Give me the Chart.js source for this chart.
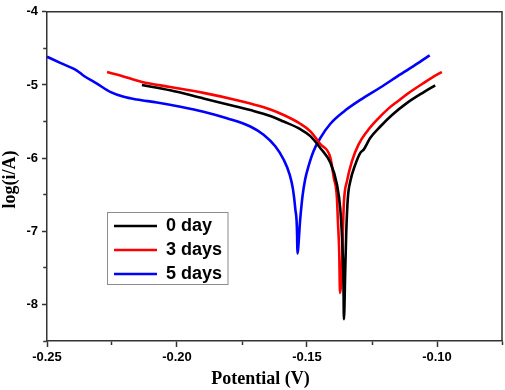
<!DOCTYPE html>
<html>
<head>
<meta charset="utf-8">
<script src="https://cdn.jsdelivr.net/npm/chart.js@4/dist/chart.umd.min.js"></script>
<style>
html,body{margin:0;padding:0;background:#fff;}
#wrap{width:505px;height:390px;position:relative;}
</style>
</head>
<body>
<div id="wrap"><canvas id="c" width="505" height="390"></canvas></div>
<script>
// ---- data ----
const seriesNames = ['0 day', '3 days', '5 days'];
const seriesColors = ['#000000', '#ff0000', '#0000ff'];

const day0X = [-0.2135,-0.2026,-0.1898,-0.1769,-0.1718,-0.1641,-0.1590,-0.1526,-0.1487,-0.1449,-0.1410,-0.1385,-0.1372,-0.1365,-0.1360,-0.1358,-0.1353,-0.1349,-0.1343,-0.1333,-0.1314,-0.1295,-0.1282,-0.1257,-0.1218,-0.1173,-0.1115,-0.1052,-0.1007];
const day0Y = [-5.000,-5.073,-5.185,-5.297,-5.343,-5.424,-5.500,-5.604,-5.699,-5.861,-6.064,-6.357,-6.695,-7.100,-7.641,-8.203,-7.550,-7.009,-6.550,-6.311,-6.086,-5.928,-5.884,-5.726,-5.568,-5.411,-5.245,-5.100,-5.005];

const day3X = [-0.2269,-0.2218,-0.2135,-0.2026,-0.1898,-0.1769,-0.1718,-0.1641,-0.1590,-0.1526,-0.1487,-0.1449,-0.1410,-0.1397,-0.1385,-0.1381,-0.1376,-0.1373,-0.1365,-0.1362,-0.1358,-0.1346,-0.1327,-0.1302,-0.1269,-0.1231,-0.1186,-0.1148,-0.1115,-0.1052,-0.1000,-0.0981];
const day3Y = [-4.824,-4.870,-4.959,-5.027,-5.108,-5.208,-5.255,-5.335,-5.410,-5.530,-5.635,-5.807,-5.996,-6.266,-6.536,-6.874,-7.280,-7.843,-7.415,-7.009,-6.604,-6.311,-6.041,-5.816,-5.635,-5.478,-5.320,-5.215,-5.125,-4.975,-4.860,-4.824];

const day5X = [-0.2500,-0.2449,-0.2385,-0.2359,-0.2308,-0.2257,-0.2205,-0.2154,-0.2077,-0.1987,-0.1898,-0.1808,-0.1718,-0.1667,-0.1622,-0.1590,-0.1567,-0.1554,-0.1545,-0.1538,-0.1537,-0.1526,-0.1517,-0.1507,-0.1494,-0.1475,-0.1449,-0.1410,-0.1359,-0.1295,-0.1218,-0.1141,-0.1064,-0.1028];
const day5Y = [-4.614,-4.699,-4.803,-4.874,-4.982,-5.095,-5.162,-5.199,-5.239,-5.297,-5.365,-5.455,-5.568,-5.681,-5.838,-6.019,-6.222,-6.424,-6.695,-7.054,-7.303,-6.830,-6.514,-6.289,-6.108,-5.905,-5.726,-5.530,-5.365,-5.205,-5.035,-4.855,-4.680,-4.595];

const xAxisRange = [-0.25, -0.075];
const yAxisRange = [-8.5, -4];
const xTitle = 'Potential (V)';
const yTitle = 'log(i/A)';

// ---- build ----
const toPts = (xs, ys) => xs.map((x, i) => ({x: x, y: ys[i]}));
const seriesData = [toPts(day0X, day0Y), toPts(day3X, day3Y), toPts(day5X, day5Y)];

const sansBold = {family: "'Liberation Sans', Arial, sans-serif", size: 13, weight: 'bold'};
const serifBold = {family: "'Liberation Serif', 'Times New Roman', serif", size: 18, weight: 'bold', lineHeight: 1.2};
const axisColor = '#333333';

function patchTitle(scale, dx, dy) {
  if (scale._titlePatched) return;
  const orig = scale.drawTitle;
  scale.drawTitle = function () {
    const c = this.ctx;
    c.save();
    c.translate(dx, dy);
    orig.call(this);
    c.restore();
  };
  scale._titlePatched = true;
}

const decor = {
  id: 'decor',
  beforeDraw(chart) {
    const lg = chart.legend;
    if (lg) {
      lg.left = 108; lg.top = 211; lg.right = 240; lg.bottom = 300;
      lg.width = 132; lg.height = 89;
    }
  },
  afterDraw(chart) {
    const ctx = chart.ctx;
    const a = chart.chartArea;
    ctx.save();
    ctx.strokeStyle = axisColor;
    ctx.lineWidth = 1.5;
    ctx.beginPath();
    ctx.moveTo(a.left, a.top);
    ctx.lineTo(a.right, a.top);
    ctx.lineTo(a.right, a.bottom);
    ctx.stroke();
    ctx.strokeStyle = '#8c8c8c';
    ctx.lineWidth = 1;
    ctx.strokeRect(107.5, 212.5, 120.5, 72);
    ctx.restore();
  }
};

new Chart(document.getElementById('c'), {
  type: 'scatter',
  data: {
    datasets: seriesData.map((d, i) => ({
      label: seriesNames[i],
      data: d,
      showLine: true,
      borderColor: seriesColors[i],
      backgroundColor: seriesColors[i],
      borderWidth: 2.6,
      pointRadius: 0,
      pointHoverRadius: 0,
      fill: false,
      tension: 0.4,
      cubicInterpolationMode: 'monotone'
    }))
  },
  options: {
    responsive: false,
    animation: false,
    devicePixelRatio: 1,
    layout: {padding: {top: 7, right: 2, left: 0, bottom: 0}},
    plugins: {
      tooltip: {enabled: false},
      legend: {
        position: 'chartArea',
        align: 'start',
        labels: {
          usePointStyle: true,
          pointStyle: 'line',
          pointStyleWidth: 43,
          padding: 6,
          color: '#000',
          font: {family: "'Liberation Sans', Arial, sans-serif", size: 18, weight: 'bold'}
        }
      }
    },
    scales: {
      x: {
        type: 'linear',
        position: 'bottom',
        min: xAxisRange[0],
        max: xAxisRange[1],
        afterFit(s) { s.height = 49; patchTitle(s, -14, 0); },
        ticks: {
          stepSize: 0.025,
          autoSkip: false,
          maxRotation: 0,
          padding: 3,
          color: '#000',
          font: sansBold,
          callback: (v) => (Math.round(v * 40) % 2 === 0 ? v.toFixed(2) : '')
        },
        grid: {
          display: true,
          drawOnChartArea: false,
          drawTicks: true,
          tickLength: 6,
          tickColor: axisColor,
          tickWidth: 1.5,
          tickBorderDash: (ctx) => (ctx.tick && Math.round(ctx.tick.value * 40) % 2 !== 0 ? [3.5, 100] : [])
        },
        border: {display: true, color: axisColor, width: 1.5},
        title: {display: true, text: xTitle, color: '#000', font: serifBold, padding: {top: 0, bottom: 0}}
      },
      y: {
        type: 'linear',
        position: 'left',
        min: yAxisRange[0],
        max: yAxisRange[1],
        afterFit(s) { s.width = 47; patchTitle(s, 0, 3); },
        ticks: {
          stepSize: 0.5,
          autoSkip: false,
          padding: 4,
          color: '#000',
          font: sansBold,
          callback: (v) => (Math.round(v * 2) % 2 === 0 ? String(Math.round(v)) : '')
        },
        grid: {
          display: true,
          drawOnChartArea: false,
          drawTicks: true,
          tickLength: 5,
          tickColor: axisColor,
          tickWidth: 1.5,
          tickBorderDash: (ctx) => (ctx.tick && Math.round(ctx.tick.value * 2) % 2 !== 0 ? [3, 20] : []),
          tickBorderDashOffset: 21.75
        },
        border: {display: true, color: axisColor, width: 1.5},
        title: {display: true, text: yTitle, color: '#000', font: serifBold, padding: {top: 0, bottom: 0}}
      }
    }
  },
  plugins: [decor]
});
</script>
</body>
</html>
